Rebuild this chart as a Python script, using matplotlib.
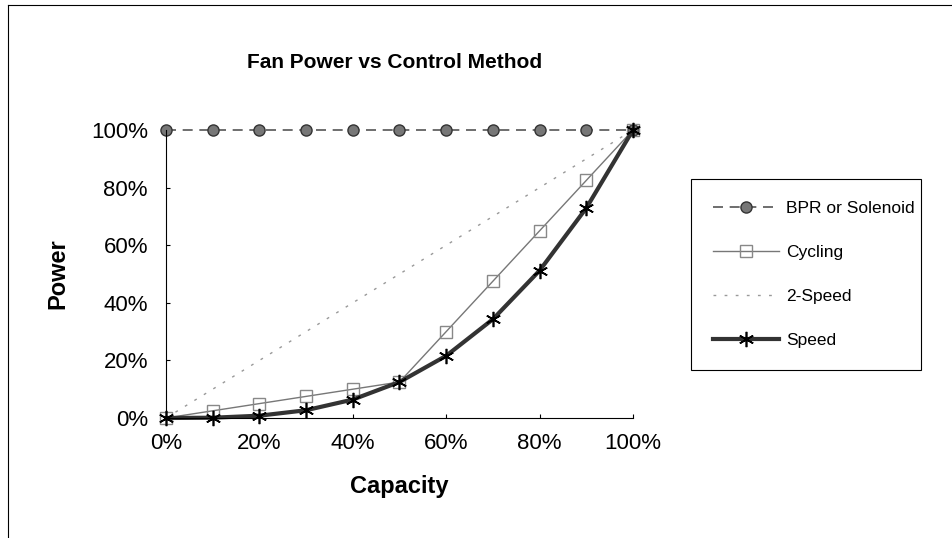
##############################################################################
# Fan power vs control method -- recreated Excel style line chart
##############################################################################
import matplotlib
matplotlib.use("Agg")
import matplotlib.pyplot as plt
from matplotlib.lines import Line2D
from matplotlib.ticker import PercentFormatter

plt.rcParams['font.family'] = ['Liberation Sans', 'DejaVu Sans']

# Data (percent)
capacity = [0, 10, 20, 30, 40, 50, 60, 70, 80, 90, 100]
bpr_solenoid = [100, 100, 100, 100, 100, 100, 100, 100, 100, 100, 100]
cycling = [0, 2.5, 5, 7.5, 10, 12.5, 30, 47.5, 65, 82.5, 100]
two_speed = [0, 10, 20, 30, 40, 50, 60, 70, 80, 90, 100]
speed = [0, 0.1, 0.8, 2.7, 6.4, 12.5, 21.6, 34.3, 51.2, 72.9, 100]
tick_vals = [0, 20, 40, 60, 80, 100]

W, H = 953, 538
fig = plt.figure(figsize=(W / 100, H / 100), dpi=100)
# plot area in pixels: x 166..633, y 130..418
ax = fig.add_axes([166 / W, 1 - 418 / H, 467 / W, 288 / H])

# the series
ax.plot(capacity, bpr_solenoid, color="#555555", lw=1.2, ls=(0, (6, 4)),
        marker="o", ms=8, mfc="#777777", mec="#333333", clip_on=False,
        label="BPR or Solenoid")
ax.plot(capacity, cycling, color="#777777", lw=1.0,
        marker="s", ms=9, mfc="none", mec="#888888", mew=1.0, clip_on=False,
        label="Cycling")
ax.plot(capacity, two_speed, color="#999999", lw=1.0, ls=(0, (2, 6)),
        clip_on=False, label="2-Speed")
ax.plot(capacity, speed, color="#333333", lw=3, marker=(6, 2, 0), ms=11,
        mec="black", mew=1.2, clip_on=False, label="Speed")

ax.set_xlim(0, 100)
ax.set_ylim(0, 100)
ax.set_xticks(tick_vals)
ax.set_yticks(tick_vals)
ax.xaxis.set_major_formatter(PercentFormatter(decimals=0))
ax.yaxis.set_major_formatter(PercentFormatter(decimals=0))
ax.tick_params(labelsize=16, length=3, width=0.8, direction="in")
ax.tick_params(axis="x", pad=11)
ax.tick_params(axis="y", pad=13)
for side in ["top", "right"]:
    ax.spines[side].set_visible(False)
for side in ["left", "bottom"]:
    ax.spines[side].set_linewidth(0.8)

ax.set_xlabel("Capacity", fontsize=17, fontweight="bold", va="center")
ax.xaxis.set_label_coords(0.5, (418 - 486) / 288)
ax.set_ylabel("Power", fontsize=17, fontweight="bold", va="center")
ax.yaxis.set_label_coords((58 - 166) / 467, 0.5)
fig.text(395 / W, 1 - 62 / H, "Fan Power vs Control Method",
         ha="center", va="center", fontsize=15, fontweight="bold")

leg = ax.legend(loc="center", bbox_to_anchor=(682 / W, 1 - 374 / H, 248 / W, 199 / H),
                bbox_transform=fig.transFigure, mode="expand",
                fontsize=12.5, handlelength=3.8, handletextpad=0.4,
                labelspacing=1.65, fancybox=False, edgecolor="black",
                framealpha=1, borderpad=1.3)
leg.get_frame().set_linewidth(0.8)

# outer chart border (only top and left survive in the scan)
fig.add_artist(Line2D([8 / W, 1], [1 - 5 / H, 1 - 5 / H], color="black", lw=0.8))
fig.add_artist(Line2D([8 / W, 8 / W], [0, 1 - 5 / H], color="black", lw=0.8))

fig.savefig("out.png", dpi=100)
